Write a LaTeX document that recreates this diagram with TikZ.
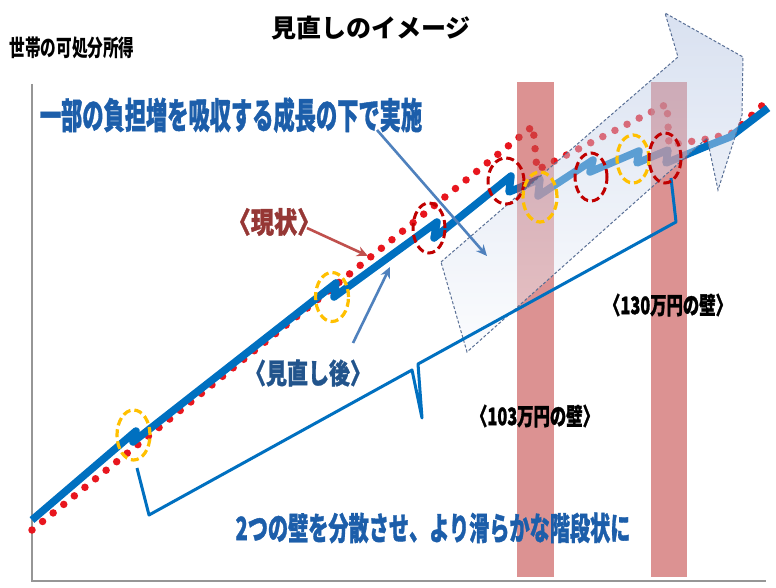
\documentclass[tikz,border=0pt]{standalone}
\usepackage{fontspec}
\newfontfamily\jp{Noto Sans CJK JP}
\newfontfamily\jph{Noto Sans CJK JP}[BoldFeatures={FakeBold=1.3}]
\usetikzlibrary{arrows.meta}
\definecolor{lineblue}{RGB}{0,112,192}
\definecolor{dotred}{RGB}{232,22,30}
\definecolor{ellred}{RGB}{192,0,0}
\definecolor{ellyel}{RGB}{255,192,0}
\definecolor{barc}{RGB}{200,80,80}
\definecolor{arrowL}{RGB}{248,250,253}
\definecolor{arrowR}{RGB}{172,190,224}
\definecolor{arrowedge}{RGB}{90,112,150}
\definecolor{txtblue}{RGB}{28,94,170}
\definecolor{txtdblue}{RGB}{34,84,140}
\definecolor{txtred}{RGB}{150,55,53}
\definecolor{ptrred}{RGB}{192,80,77}
\definecolor{ptrblue}{RGB}{79,129,189}
\definecolor{axisc}{RGB}{150,150,150}
\tikzset{
  mainline/.style={lineblue, line width=7.5pt, line join=round, line cap=butt},
  dotline/.style={dotred, line width=7.5pt, line cap=round, dash pattern=on 0pt off 13.6pt},
  redell/.style={ellred, line width=3pt, dash pattern=on 8pt off 4pt},
  yelell/.style={ellyel, line width=3.2pt, dash pattern=on 8pt off 4pt},
  wall/.style={barc, opacity=0.62},
  bracket/.style={lineblue, line width=3pt, line join=round},
  ptr/.style={line width=2.6pt, -{Stealth[length=11pt,width=10pt]}},
  jptext/.style={inner sep=0pt, font=\jp\bfseries},
}
\begin{document}
\begin{tikzpicture}[x=1pt,y=-1pt]
\useasboundingbox (0,0) rectangle (776,588);
\fill[white] (0,0) rectangle (776,588);

% axes
\coordinate (ytop) at (32,84);
\coordinate (origin) at (32,581);
\coordinate (xend) at (766,581);
\draw[axisc, line width=1.4pt] (ytop) -- (origin) -- (xend);

% current situation (dotted)
\draw[dotline] (32,530) -- (533,126) -- (537,170) -- (667,104) -- (669,145) -- (707,139) -- (733,133) -- (768,100);

% after review (solid with steps)
\draw[mainline] (32,520) -- (136,431) -- (133,442) -- (336,283) -- (334,297)
  -- (437,222) -- (434,238) -- (511,176) -- (509,192) -- (540,179) -- (538,196)
  -- (593,160) -- (590,172) -- (639,151) -- (637,163) -- (668,150) -- (666,163)
  -- (707,146) -- (730,137) -- (768,108);

% walls
\fill[wall] (517,82) rectangle (554,577);
\fill[wall] (651,82) rectangle (687,577);

% big growth arrow
\path[draw=arrowedge, dash pattern=on 3pt off 2pt, line width=1pt,
      top color=arrowR, bottom color=arrowL, fill opacity=0.45]
  (441,262) -- (678,57) -- (665,13) -- (743,57) -- (742,115) -- (718,190)
  -- (707,138) -- (467,352) -- cycle;

% bracket
\draw[bracket] (137,468) -- (149,515) -- (412,370) -- (422,418) -- (418,364) -- (676,222) -- (671,178);

% ellipses
\draw[yelell] (133.5,435) ellipse [x radius=16.5pt, y radius=25pt];
\draw[yelell] (332,297) ellipse [x radius=16.5pt, y radius=24.5pt];
\draw[redell] (429,228) ellipse [x radius=16pt, y radius=25pt];
\draw[redell] (506,181) ellipse [x radius=18pt, y radius=23pt];
\draw[yelell] (540,197) ellipse [x radius=17pt, y radius=25pt];
\draw[redell] (591,177) ellipse [x radius=16pt, y radius=24pt];
\draw[yelell] (633,159) ellipse [x radius=16pt, y radius=24pt];
\draw[redell] (665,158) ellipse [x radius=16pt, y radius=25pt];

% texts
\node[jptext, font=\jp\bfseries\fontsize{25}{25}\selectfont] (title) at (371,28) {見直しのイメージ};
\node[jptext, xscale=0.68, font=\jp\bfseries\fontsize{23}{23}\selectfont] (ylab) at (72,48) {世帯の可処分所得};
\node[jptext, txtblue, xscale=0.59, font=\jph\bfseries\fontsize{36}{36}\selectfont] (growth) at (231,115) {一部の負担増を吸収する成長の下で実施};
\node[jptext, txtred, xscale=0.8, font=\jph\bfseries\fontsize{29}{29}\selectfont] (genjo) at (274,222) {〈現状〉};
\node[jptext, txtdblue, xscale=0.75, font=\jph\bfseries\fontsize{28}{28}\selectfont] (minaoshi) at (308,373) {〈見直し後〉};
\node[jptext, black, xscale=0.68, font=\jph\bfseries\fontsize{24}{24}\selectfont] (w130) at (668,305) {〈130万円の壁〉};
\node[jptext, black, xscale=0.68, font=\jph\bfseries\fontsize{24}{24}\selectfont] (w103) at (535,416) {〈103万円の壁〉};
\node[jptext, txtblue, xscale=0.63, font=\jph\bfseries\fontsize{32}{32}\selectfont] (spread) at (433,528) {2つの壁を分散させ、より滑らかな階段状に};

% pointers
\coordinate (g1) at (307,228);
\coordinate (g2) at (368,256);
\draw[ptr, ptrred] (g1) -- (g2);
\coordinate (m1) at (353,343);
\coordinate (m2) at (390,267);
\draw[ptr, ptrblue] (m1) -- (m2);
\coordinate (s1) at (377,130);
\coordinate (s2) at (487,256);
\draw[ptr, ptrblue] (s1) -- (s2);
\end{tikzpicture}
\end{document}
